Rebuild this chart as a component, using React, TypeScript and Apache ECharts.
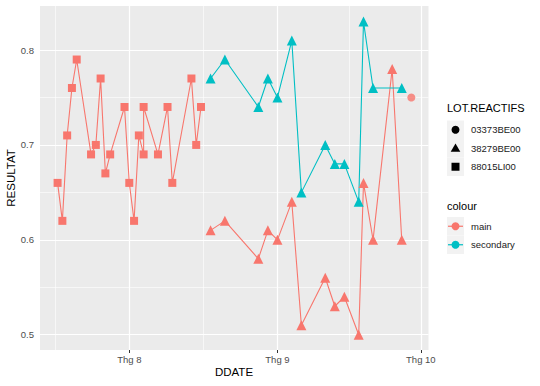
import React, { useEffect, useRef } from "react";
import * as echarts from "echarts";

// ---- data ----
const mainSquareDates = ["07-17","07-18","07-19","07-20","07-21","07-24","07-25","07-26","07-27","07-28","07-31","08-01","08-02","08-03","08-04","08-04","08-07","08-09","08-10","08-14","08-15","08-16"];
const mainSquareValues = [0.66,0.62,0.71,0.76,0.79,0.69,0.70,0.77,0.67,0.69,0.74,0.66,0.62,0.71,0.69,0.74,0.69,0.74,0.66,0.77,0.70,0.74];

const mainTriangleDates = ["08-18","08-21","08-28","08-30","09-01","09-04","09-06","09-11","09-13","09-15","09-18","09-19","09-21","09-25","09-27"];
const mainTriangleValues = [0.61,0.62,0.58,0.61,0.60,0.64,0.51,0.56,0.53,0.54,0.50,0.66,0.60,0.78,0.60];

const secTriangleDates = ["08-18","08-21","08-28","08-30","09-01","09-04","09-06","09-11","09-13","09-15","09-18","09-19","09-21","09-27"];
const secTriangleValues = [0.77,0.79,0.74,0.77,0.75,0.81,0.65,0.70,0.68,0.68,0.64,0.83,0.76,0.76];

const mainCircleDates = ["09-29"];
const mainCircleValues = [0.75];

const xTickDates = ["08-01","09-01","10-01"];
const xTickLabels = ["Thg 8","Thg 9","Thg 10"];
const yTickValues = [0.5,0.6,0.7,0.8];
const shapeLegend = ["03373BE00","38279BE00","88015LI00"];
const colourLegend = ["main","secondary"];

const RED = "#F8766D";
const TEAL = "#00BFC4";
const FONT = '"Liberation Sans", Arial, sans-serif';

const dayOffset = (md: string) => {
  const [m, d] = md.split("-").map(Number);
  return (Date.UTC(2021, m - 1, d) - Date.UTC(2021, 7, 1)) / 86400000;
};
const pairs = (dates: string[], vals: number[]) => dates.map((d, i) => [dayOffset(d), vals[i]]);

export default function App() {
  const ref = useRef<HTMLDivElement>(null);
  useEffect(() => {
    if (!ref.current) return;
    const chart = echarts.init(ref.current, undefined, { renderer: "svg" });
    const xTicks = xTickDates.map(dayOffset);
    const xMinor = xTicks.map((v, i) => (i === 0 ? v - 15.5 : (v + xTicks[i - 1]) / 2));
    const yMinor = [0.55, 0.65, 0.75];

    const major = { color: "#FFFFFF", width: 1.2, type: "solid" };
    const minor = { color: "#FFFFFF", width: 0.6, type: "solid" };
    const gridLines: any[] = [
      ...xMinor.map((v) => ({ xAxis: v, lineStyle: minor })),
      ...yMinor.map((v) => ({ yAxis: v, lineStyle: minor })),
      ...xTicks.map((v) => ({ xAxis: v, lineStyle: major })),
      ...yTickValues.map((v) => ({ yAxis: v, lineStyle: major })),
    ];

    const lx = 447, kw = 17, kh = 18.5;
    const graphics: any[] = [];
    graphics.push({ type: "text", x: lx, y: 108, style: { text: "LOT.REACTIFS", fill: "#000", fontSize: 11, fontFamily: FONT, align: "left", verticalAlign: "middle" } });
    const sy0 = 120.5;
    shapeLegend.forEach((lab, i) => {
      const cy = sy0 + kh * i + kh / 2;
      const cx = lx + kw / 2;
      graphics.push({ type: "rect", shape: { x: lx, y: sy0 + kh * i, width: kw, height: kh }, style: { fill: "#F2F2F2" } });
      if (i === 0) graphics.push({ type: "circle", shape: { cx, cy, r: 4 }, style: { fill: "#000" } });
      if (i === 1) graphics.push({ type: "polygon", shape: { points: [[cx, cy - 4.8], [cx + 4.8, cy + 3.6], [cx - 4.8, cy + 3.6]] }, style: { fill: "#000" } });
      if (i === 2) graphics.push({ type: "rect", shape: { x: cx - 4, y: cy - 4, width: 8, height: 8 }, style: { fill: "#000" } });
      graphics.push({ type: "text", x: lx + 24, y: cy, style: { text: lab, fill: "#1A1A1A", fontSize: 9.5, fontFamily: FONT, align: "left", verticalAlign: "middle" } });
    });
    graphics.push({ type: "text", x: lx, y: 206, style: { text: "colour", fill: "#000", fontSize: 11, fontFamily: FONT, align: "left", verticalAlign: "middle" } });
    const cy0 = 217;
    colourLegend.forEach((lab, i) => {
      const cy = cy0 + kh * i + kh / 2;
      const cx = lx + kw / 2;
      const col = i === 0 ? RED : TEAL;
      graphics.push({ type: "rect", shape: { x: lx, y: cy0 + kh * i, width: kw, height: kh }, style: { fill: "#F2F2F2" } });
      graphics.push({ type: "line", shape: { x1: lx + 1, y1: cy, x2: lx + kw - 1, y2: cy }, style: { stroke: col, lineWidth: 1.2 } });
      graphics.push({ type: "circle", shape: { cx, cy, r: 4 }, style: { fill: col } });
      graphics.push({ type: "text", x: lx + 24, y: cy, style: { text: lab, fill: "#1A1A1A", fontSize: 9.5, fontFamily: FONT, align: "left", verticalAlign: "middle" } });
    });
    graphics.push({ type: "text", x: 234, y: 372, style: { text: "DDATE", fill: "#000", fontSize: 11.5, fontFamily: FONT, align: "center", verticalAlign: "middle" } });
    graphics.push({ type: "text", x: 11, y: 178, rotation: Math.PI / 2, style: { text: "RESULTAT", fill: "#000", fontSize: 11.5, fontFamily: FONT, align: "center", verticalAlign: "middle" } });

    chart.setOption({
      animation: false,
      grid: { left: 40, top: 6, width: 388.5, height: 344, show: true, backgroundColor: "#EBEBEB", borderWidth: 0 },
      xAxis: {
        type: "value",
        min: -18.68,
        max: 62.6,
        axisLine: { show: false },
        splitLine: { show: false },
        axisTick: { show: true, customValues: xTicks, length: 3, lineStyle: { color: "#333333", width: 1 } },
        axisLabel: {
          customValues: xTicks,
          margin: 4,
          color: "#4D4D4D",
          fontSize: 9.5,
          fontFamily: FONT,
          formatter: (v: number) => {
            const idx = xTicks.findIndex((t) => Math.abs(t - v) < 0.01);
            return idx >= 0 ? xTickLabels[idx] : "";
          },
        },
      },
      yAxis: {
        type: "value",
        min: 0.4839,
        max: 0.8464,
        axisLine: { show: false },
        splitLine: { show: false },
        axisTick: { show: true, customValues: yTickValues, length: 3, lineStyle: { color: "#333333", width: 1 } },
        axisLabel: {
          customValues: yTickValues,
          margin: 6,
          color: "#4D4D4D",
          fontSize: 9.5,
          fontFamily: FONT,
          formatter: (v: number) => v.toFixed(1),
        },
      },
      graphic: graphics,
      series: [
        {
          type: "line",
          data: [],
          z: 1,
          silent: true,
          markLine: { z: 1, silent: true, symbol: ["none", "none"], label: { show: false }, animation: false, data: gridLines },
        },
        {
          name: "main-88015LI00",
          type: "line",
          z: 10,
          data: pairs(mainSquareDates, mainSquareValues),
          symbol: "rect",
          symbolSize: 8,
          itemStyle: { color: RED },
          lineStyle: { color: RED, width: 1.1 },
        },
        {
          name: "main-38279BE00",
          type: "line",
          z: 10,
          data: pairs(mainTriangleDates, mainTriangleValues),
          symbol: "triangle",
          symbolSize: 10,
          itemStyle: { color: RED },
          lineStyle: { color: RED, width: 1.1 },
        },
        {
          name: "secondary-38279BE00",
          type: "line",
          z: 10,
          data: pairs(secTriangleDates, secTriangleValues),
          symbol: "triangle",
          symbolSize: 10,
          itemStyle: { color: TEAL },
          lineStyle: { color: TEAL, width: 1.1 },
        },
        {
          name: "main-03373BE00",
          type: "scatter",
          z: 10,
          data: pairs(mainCircleDates, mainCircleValues),
          symbol: "circle",
          symbolSize: 8,
          itemStyle: { color: RED },
        },
      ],
    });
    return () => chart.dispose();
  }, []);
  return <div ref={ref} style={{ position: "absolute", left: 0, top: 0, width: 540, height: 386 }} />;
}
